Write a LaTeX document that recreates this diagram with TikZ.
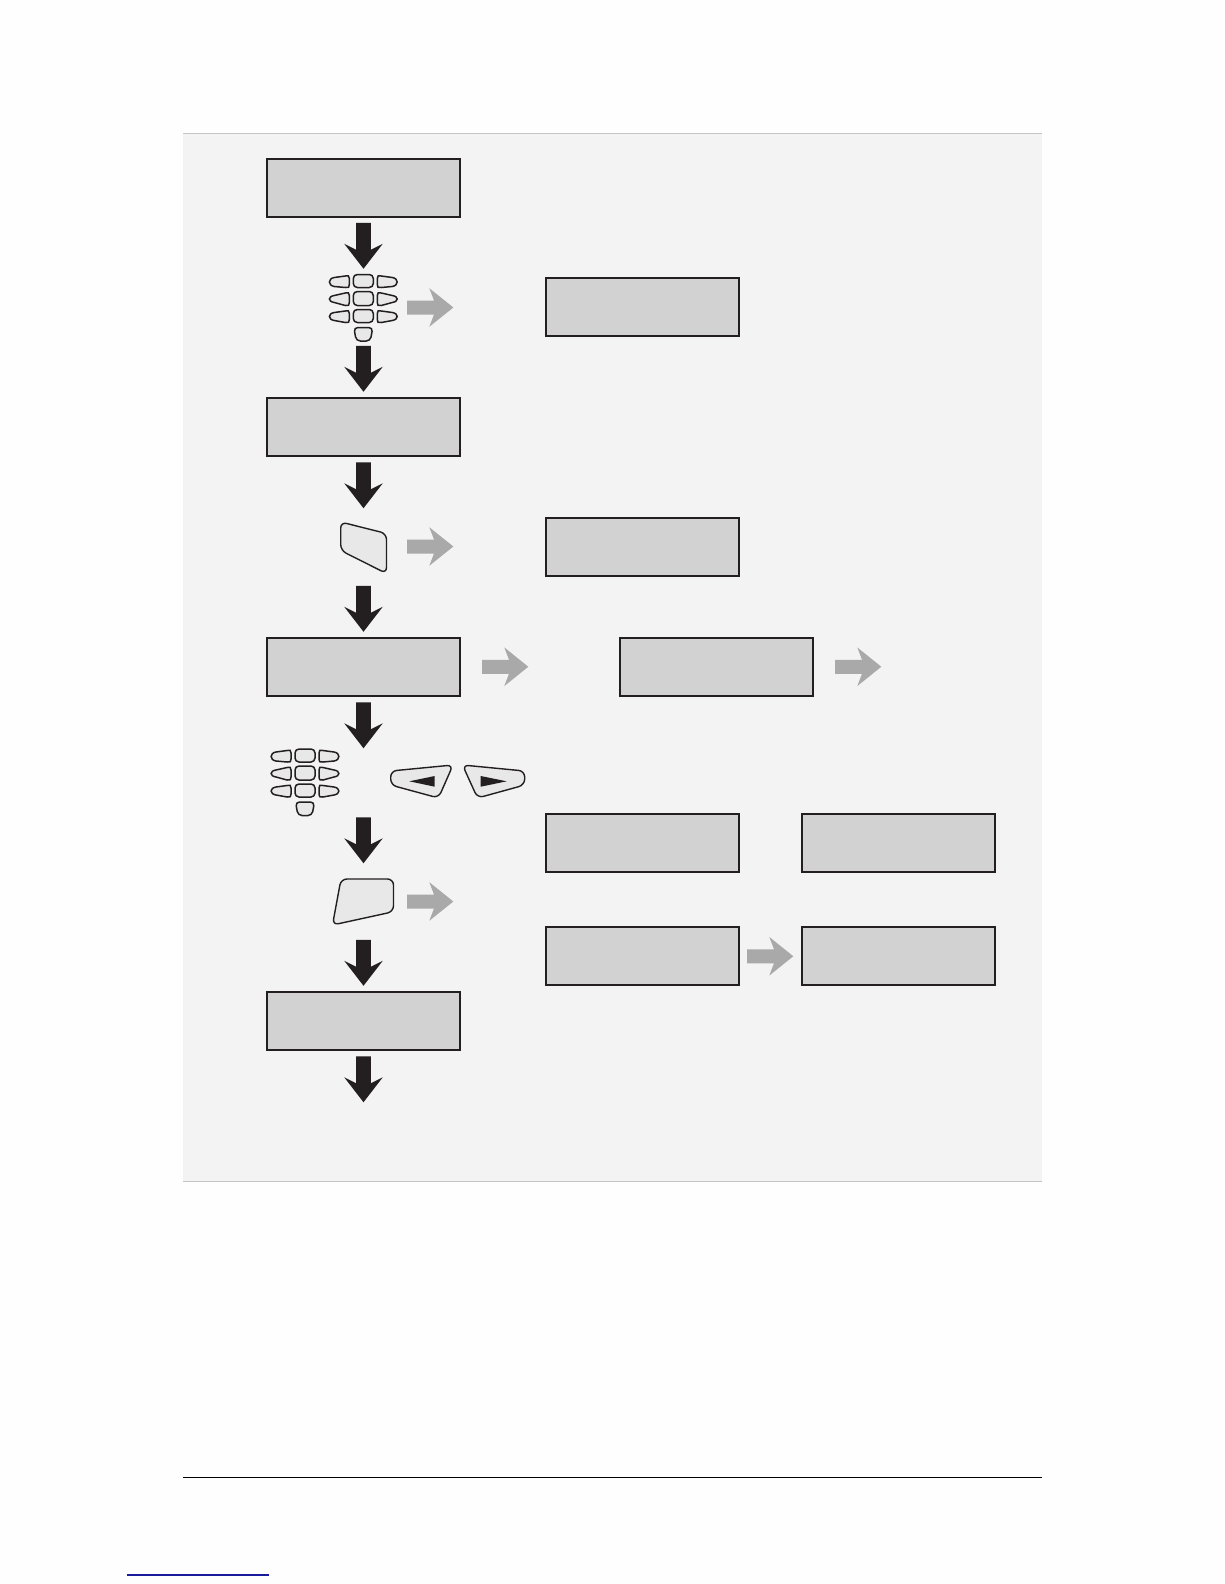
\documentclass[tikz,border=0pt]{standalone}
\usepackage{tikz}
\usetikzlibrary{arrows.meta, positioning, calc}
\definecolor{pageWhite}{HTML}{FEFEFE}
\definecolor{panelGray}{HTML}{F3F3F3}
\definecolor{panelEdge}{HTML}{C4C4C4}
\definecolor{screenGray}{HTML}{D2D2D2}
\definecolor{keyGray}{HTML}{E8E8E8}
\definecolor{inkDark}{HTML}{231F20}
\definecolor{arrowGray}{HTML}{A9A9A9}
\definecolor{linkBlue}{HTML}{1A1A9C}
\tikzset{
  screenBox/.style={rectangle, draw=inkDark, fill=screenGray, line width=1.8pt,
                    minimum width=193pt, minimum height=58pt, outer sep=0pt},
  keyShape/.style={draw=inkDark, fill=keyGray, line width=1.5pt},
  bigKey/.style={keyShape, line width=1.4pt, rounded corners=6pt},
  arrowB/.pic={\fill[inkDark] (-7.3,0) -- (7.3,0) -- (7.3,27) -- (19.3,21) -- (0,46)
               -- (-19.3,21) -- (-7.3,27) -- cycle;},
  arrowL/.pic={\fill[arrowGray] (0,-7) -- (27,-7) -- (22.3,-19.3) -- (46.3,0)
               -- (22.3,19.3) -- (27,7) -- (0,7) -- cycle;},
  keypad/.pic={
    \foreach \rowy/\rowh/\tipa/\tipb in {0/13/4/11, 17/14/5/10, 35/13/4/10} {
      \draw[keyShape, rounded corners=4pt] (-10,\rowy) rectangle (10,\rowy+\rowh);
      \foreach \side in {1,-1} {
        \draw[keyShape, xscale=\side] (-14,\rowy+4)
          .. controls (-14,\rowy+1) and (-15,\rowy+1) .. (-18,\rowy+1.5)
          -- (-29,\rowy+\tipa-1)
          .. controls (-35.5,\rowy+\tipa) and (-35.5,\rowy+\tipb) .. (-29,\rowy+\tipb+1)
          -- (-18,\rowy+\rowh)
          .. controls (-14.5,\rowy+\rowh) and (-14,\rowy+\rowh) .. (-14,\rowy+\rowh-3)
          -- cycle;
      }
    }
    \draw[keyShape, rounded corners=4pt] (-9.5,53) -- (9.5,53) -- (7,66.5) -- (-7,66.5) -- cycle;
  },
}
\begin{document}
\begin{tikzpicture}[x=1pt, y=-1pt]
    \useasboundingbox (0,0) rectangle (1224,1584);
    \fill[pageWhite] (0,0) rectangle (1224,1584);
    \fill[panelGray] (183,133.5) rectangle (1042,1181.5);
    \draw[panelEdge, line width=0.8pt] (183,133.5) -- (1042,133.5);
    \draw[panelEdge, line width=0.8pt] (183,1181.5) -- (1042,1181.5);
    \draw[black, line width=1pt] (183,1477) -- (1042,1477);
    \draw[linkBlue, line width=1.2pt] (127,1575) -- (269,1575);

    \node[screenBox] (scrA) at (363.5,187.75) {};
    \node[screenBox, below=181pt of scrA] (scrB) {};
    \node[screenBox, below=182pt of scrB] (scrC) {};
    \node[screenBox, below=296pt of scrC] (scrD) {};
    \node[screenBox] (infoA) at (642.5,307.25) {};
    \node[screenBox, below=182pt of infoA] (infoB) {};
    \node[screenBox, right=160pt of scrC] (infoC) {};
    \node[screenBox, below=238pt of infoB] (msgA) {};
    \node[screenBox, right=63pt of msgA] (msgB) {};
    \node[screenBox, below=55pt of msgA] (msgC) {};
    \node[screenBox, right=63pt of msgC] (msgD) {};

    \pic (downA) at ($(scrA.south)+(0,6)$) {arrowB};
    \pic (downB) at ($(scrB.north)+(0,-52)$) {arrowB};
    \pic (downC) at ($(scrB.south)+(0,6.5)$) {arrowB};
    \pic (downD) at ($(scrC.north)+(0,-52)$) {arrowB};
    \pic (downE) at ($(scrC.south)+(0,6.5)$) {arrowB};
    \pic (downF) at ($(scrC.south)+(0,121.5)$) {arrowB};
    \pic (downG) at ($(scrD.north)+(0,-52)$) {arrowB};
    \pic (downH) at ($(scrD.south)+(0,6.5)$) {arrowB};

    \pic (sideA) at (407,307.5) {arrowL};
    \pic (sideB) at (407,546.5) {arrowL};
    \pic (sideC) at ($(scrC.east)+(22,0)$) {arrowL};
    \pic (sideD) at ($(infoC.east)+(22,0)$) {arrowL};
    \pic (sideE) at (407,901.5) {arrowL};
    \pic (sideF) at ($(msgC.east)+(8,0)$) {arrowL};

    \pic (padA) at (363.3,274.5) {keypad};
    \pic (padB) at (305,749) {keypad};

    \draw[bigKey] (340.7,522) -- (386.5,533.5) -- (386.5,573.5) -- (340.7,550.5) -- cycle;
    \draw[bigKey] (341,879) -- (393.5,879) -- (393.5,911.7) -- (332.5,925) -- cycle;
    \draw[bigKey] (390.7,771) -- (453,765) -- (438.5,798) -- (390.7,785) -- cycle;
    \draw[bigKey] (462.5,765) -- (524.7,771) -- (524.7,785) -- (477.5,798) -- cycle;
    \fill[inkDark] (409.3,781.3) -- (434.7,776) -- (434.7,786.7) -- cycle;
    \fill[inkDark] (480.7,776) -- (506.7,781.3) -- (480.7,786.7) -- cycle;
  \end{tikzpicture}
\end{document}
